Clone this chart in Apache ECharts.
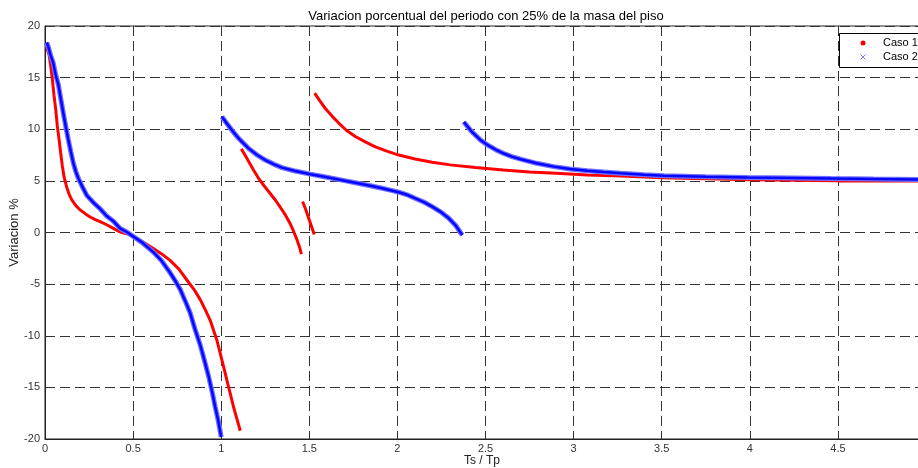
<!DOCTYPE html>
<html>
<head>
<meta charset="utf-8">
<script src="https://cdn.jsdelivr.net/npm/echarts@6/dist/echarts.min.js"></script>
<style>
  html, body { margin: 0; padding: 0; background: #fff; }
  #chart { width: 918px; height: 468px; }
</style>
</head>
<body>
<div id="chart"></div>
<script>
// Caso 1: four separate branches of the period variation curve [Ts/Tp, %]
const caso1Tramo1 = [
  [0.006,18.3],[0.015,17.6],[0.023,17.2],[0.032,16.2],[0.042,14.8],[0.051,13.3],[0.061,11.9],
  [0.07,10.3],[0.08,9.0],[0.089,7.7],[0.098,6.5],[0.108,5.4],[0.123,4.4],[0.137,3.7],[0.152,3.15],
  [0.175,2.6],[0.2,2.18],[0.23,1.8],[0.256,1.5],[0.285,1.25],[0.3125,1.05],[0.35,0.75],[0.388,0.4],
  [0.426,0.05],[0.464,-0.12],[0.502,-0.42],[0.55,-0.85],[0.615,-1.55],[0.66,-2.05],[0.71,-2.7],
  [0.76,-3.55],[0.805,-4.6],[0.845,-5.5],[0.881,-6.5],[0.91,-7.5],[0.9375,-8.5],[0.957,-9.5],
  [0.975,-10.4],[0.99,-11.4],[1.004,-12.35],[1.018,-13.3],[1.032,-14.3],[1.05,-15.5],[1.07,-16.9],
  [1.09,-18.1],[1.108,-19.2]
];
const caso1Tramo2 = [
  [1.114,8.1],[1.135,7.5],[1.155,6.9],[1.185,6.0],[1.212,5.25],[1.24,4.6],[1.27,3.95],[1.307,3.15],
  [1.335,2.45],[1.364,1.7],[1.39,0.9],[1.411,0.1],[1.43,-0.7],[1.445,-1.45],[1.455,-2.1]
];
const caso1Tramo3 = [
  [1.462,3.0],[1.48,2.2],[1.496,1.4],[1.512,0.6],[1.528,-0.2]
];
const caso1Tramo4 = [
  [1.53,13.5],[1.56,12.75],[1.591,12.0],[1.63,11.25],[1.667,10.6],[1.71,9.9],[1.761,9.3],[1.82,8.75],
  [1.875,8.3],[1.94,7.88],[2.008,7.5],[2.1,7.12],[2.197,6.8],[2.3,6.55],[2.443,6.3],[2.6,6.05],
  [2.75,5.87],[2.9,5.74],[3.08,5.58],[3.27,5.46],[3.5,5.3],[3.75,5.2],[4.0,5.1],[4.25,5.05],
  [4.5,5.0],[4.75,5.0],[4.96,5.0]
];

// Caso 2: three branches
const caso2Tramo1 = [
  [0.01,18.4],[0.02,17.9],[0.03,17.25],[0.047,16.4],[0.06,15.3],[0.076,14.3],[0.09,12.9],
  [0.104,11.55],[0.118,10.25],[0.132,9.0],[0.147,7.8],[0.161,6.7],[0.175,5.9],[0.189,5.25],
  [0.21,4.5],[0.237,3.6],[0.275,2.9],[0.3125,2.3],[0.35,1.6],[0.388,1.1],[0.426,0.4],[0.464,0.05],
  [0.502,-0.4],[0.55,-0.95],[0.615,-1.9],[0.66,-2.7],[0.71,-3.9],[0.74,-4.7],[0.767,-5.5],
  [0.795,-6.6],[0.824,-7.8],[0.852,-9.4],[0.881,-10.9],[0.905,-12.4],[0.928,-13.9],[0.948,-15.4],
  [0.966,-16.9],[0.984,-18.3],[1.0,-19.8]
];
const caso2Tramo2 = [
  [1.004,11.2],[1.03,10.6],[1.061,9.9],[1.1,9.1],[1.155,8.15],[1.2,7.55],[1.25,7.02],[1.3,6.6],
  [1.345,6.28],[1.42,5.95],[1.506,5.65],[1.57,5.45],[1.629,5.25],[1.7,5.02],[1.761,4.82],
  [1.84,4.55],[1.913,4.28],[1.96,4.1],[2.008,3.9],[2.055,3.65],[2.102,3.3],[2.15,2.95],
  [2.197,2.5],[2.245,2.0],[2.29,1.4],[2.33,0.7],[2.368,-0.25]
];
const caso2Tramo3 = [
  [2.377,10.7],[2.42,9.8],[2.472,8.95],[2.509,8.5],[2.56,8.0],[2.604,7.65],[2.65,7.35],[2.699,7.1],
  [2.79,6.7],[2.888,6.38],[2.98,6.15],[3.078,5.98],[3.17,5.85],[3.267,5.74],[3.4,5.6],[3.513,5.5],
  [3.75,5.4],[3.987,5.33],[4.25,5.27],[4.46,5.22],[4.7,5.17],[4.96,5.12]
];

const xTicks = { min: 0, max: 4.96, interval: 0.5 };
const yTicks = { min: -20, max: 20, interval: 5 };

// join branches with a null gap so the line breaks between them
function joinBranches(branches) {
  const out = [];
  branches.forEach((b, i) => {
    if (i > 0) out.push([null, null]);
    b.forEach(p => out.push(p));
  });
  return out;
}

const caso1Data = joinBranches([caso1Tramo1, caso1Tramo2, caso1Tramo3, caso1Tramo4]);
const caso2Data = joinBranches([caso2Tramo1, caso2Tramo2, caso2Tramo3]);

const crossPath = 'path://M0,0L10,10M10,0L0,10';
const FONT = '"Liberation Sans", Arial, sans-serif';
const gridLine = { show: true, lineStyle: { color: '#333', width: 1, type: [10, 5] } };

const chart = echarts.init(document.getElementById('chart'), null, { renderer: 'canvas' });
chart.setOption({
  animation: false,
  backgroundColor: '#ffffff',
  textStyle: { fontFamily: FONT },
  title: {
    text: 'Variacion porcentual del periodo con 25% de la masa del piso',
    left: 481, top: 5, textAlign: 'center',
    textStyle: { fontFamily: FONT, fontSize: 13, fontWeight: 'normal', color: '#000' }
  },
  grid: {
    left: 45, top: 26, right: -1, bottom: 29,
    containLabel: false, outerBoundsMode: 'none',
    show: true, borderColor: '#222', borderWidth: 1, backgroundColor: '#fff'
  },
  graphic: [{
    // legend frame; its right side runs past the canvas edge
    type: 'rect', left: 839, top: 33, z: 10,
    shape: { width: 110, height: 34 },
    style: { fill: '#fff', stroke: '#000', lineWidth: 1 }
  }],
  legend: {
    orient: 'vertical', left: 851, top: 33, z: 20,
    padding: [3, 0, 3, 9],
    itemWidth: 30, itemHeight: 5, itemGap: 0,
    textStyle: { fontFamily: FONT, fontSize: 11, color: '#000', lineHeight: 14 },
    data: [
      { name: 'Caso 1', icon: 'circle', itemStyle: { color: '#ff0000' } },
      { name: 'Caso 2', icon: crossPath, itemStyle: { color: '#7a7aff', borderColor: '#7a7aff', borderWidth: 1 } }
    ]
  },
  xAxis: {
    type: 'value', min: xTicks.min, max: xTicks.max, interval: xTicks.interval,
    name: 'Ts / Tp', nameLocation: 'middle', nameGap: 16, nameMoveOverlap: false,
    nameTextStyle: { fontFamily: FONT, fontSize: 12, color: '#222' },
    axisLine: { show: true, onZero: false, lineStyle: { color: '#222', width: 1 } },
    axisTick: { show: false },
    axisLabel: { fontFamily: FONT, fontSize: 11, color: '#333', margin: 4, showMaxLabel: false },
    splitLine: gridLine
  },
  yAxis: {
    type: 'value', min: yTicks.min, max: yTicks.max, interval: yTicks.interval,
    name: 'Variacion %', nameLocation: 'middle', nameGap: 24, nameRotate: 90, nameMoveOverlap: false,
    nameTextStyle: { fontFamily: FONT, fontSize: 13, color: '#222' },
    axisLine: { show: true, onZero: false, lineStyle: { color: '#222', width: 1 } },
    axisTick: { show: false },
    axisLabel: { fontFamily: FONT, fontSize: 11, color: '#333', margin: 5 },
    splitLine: gridLine
  },
  series: [
    {
      name: 'Caso 1', type: 'line', data: caso1Data, connectNulls: false,
      showSymbol: false, symbol: 'circle',
      lineStyle: { color: '#ff0000', width: 3 },
      itemStyle: { color: '#ff0000' },
      z: 2
    },
    {
      name: 'Caso 2', type: 'line', data: caso2Data, connectNulls: false,
      showSymbol: false, symbol: crossPath,
      lineStyle: { color: '#7070ff', width: 5 },
      itemStyle: { color: '#7a7aff' },
      z: 3
    },
    {
      name: 'Caso 2', type: 'line', data: caso2Data, connectNulls: false,
      showSymbol: false,
      lineStyle: { color: '#0505ff', width: 2.5 },
      itemStyle: { color: '#7a7aff' },
      z: 4
    }
  ]
});
</script>
</body>
</html>
